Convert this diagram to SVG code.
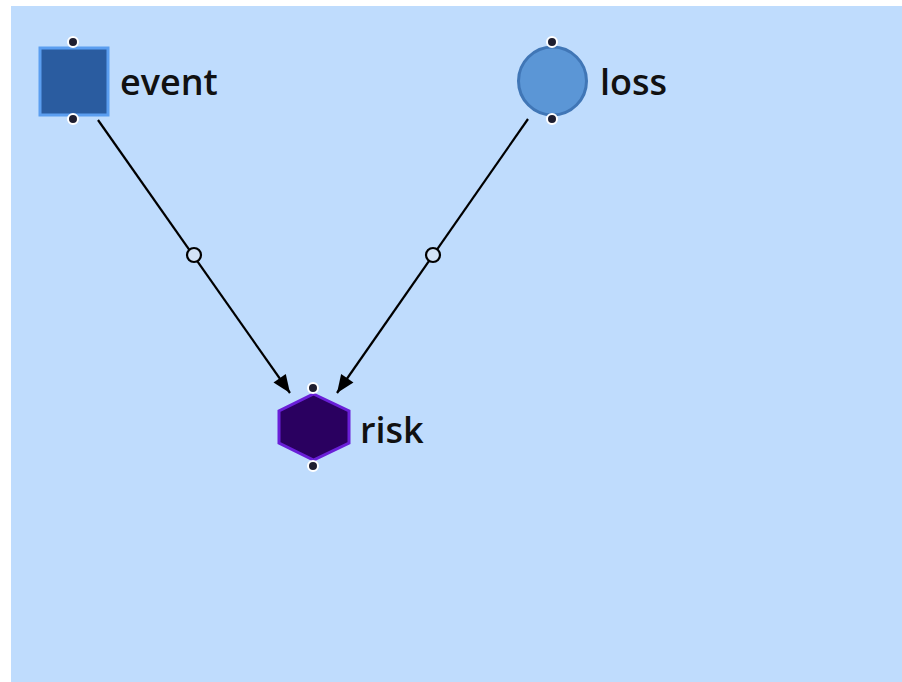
<svg xmlns="http://www.w3.org/2000/svg" width="902" height="682" viewBox="0 0 902 682">
<style>
.lbl{font-family:"Open Sans","DejaVu Sans",sans-serif;font-weight:600;font-size:36px;fill:#111}
.edge{stroke:#000;stroke-width:2.2;fill:none}
.mid{fill:#d3e3f7;stroke:#000;stroke-width:2.2}
.port{fill:#1e1e30;stroke:#fff;stroke-width:2}
</style>
<defs>
<marker id="arr" viewBox="-20 -10 20 20" refX="0" refY="0" markerWidth="20" markerHeight="20" markerUnits="userSpaceOnUse" orient="auto">
<path d="M-18,-7.5 L0,0 L-18,7.5 z" fill="#000"/>
</marker>
</defs>
<rect x="11" y="6" width="891" height="676" fill="#bfdcfd"/>
<g id="connectors">
<line class="edge" x1="98" y1="120" x2="290" y2="393" marker-end="url(#arr)"/>
<circle class="mid" cx="194" cy="255" r="7"/>
<line class="edge" x1="528" y1="119" x2="337" y2="393" marker-end="url(#arr)"/>
<circle class="mid" cx="433" cy="255" r="7"/>
</g>
<g id="event">
<rect x="40" y="48" width="68" height="67" fill="#2a5ca0" stroke="#5b9ef0" stroke-width="3"/>
<circle class="port" cx="73" cy="42" r="5"/>
<circle class="port" cx="73" cy="119" r="5"/>
<text class="lbl" x="120" y="95">event</text>
</g>
<g id="loss">
<circle cx="552.5" cy="81" r="34" fill="#5b96d6" stroke="#4076b6" stroke-width="3"/>
<circle class="port" cx="552" cy="42" r="5" stroke="#ccc"/>
<circle class="port" cx="552" cy="119" r="5" stroke="#ccc"/>
<text class="lbl" x="600" y="95">loss</text>
</g>
<g id="risk">
<polygon points="313.5,394 349,411 349,443 313.5,460 279,443 279,411" fill="#2a0060" stroke="#6a1fd8" stroke-width="3"/>
<circle class="port" cx="313" cy="388" r="5"/>
<circle class="port" cx="313" cy="466" r="5"/>
<text class="lbl" x="360" y="443">risk</text>
</g>
</svg>
